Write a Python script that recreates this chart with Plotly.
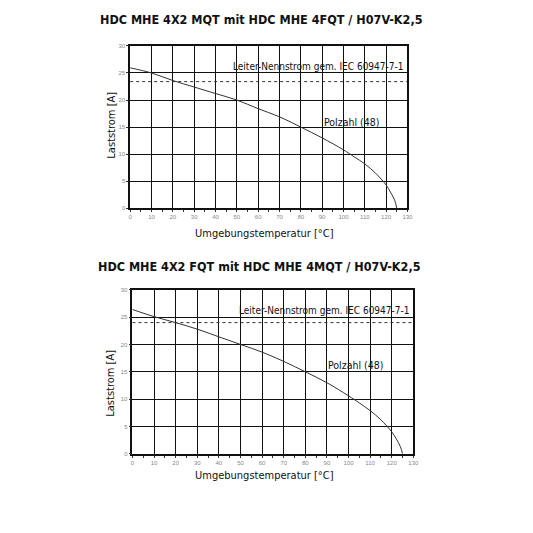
import plotly.graph_objects as go

# Temperaturwerte (°C) und Laststrom (A) der beiden Derating-Kurven
temp = [0, 10, 20, 30, 40, 50, 60, 70, 80, 90, 100, 105, 110, 115, 120, 122, 124, 125]
strom_mqt = [25.95, 25.0, 23.6, 22.4, 21.2, 20.0, 18.4, 16.9, 15.0, 13.0, 10.8, 9.5, 8.2, 6.5, 4.3, 3.0, 1.5, 0]
strom_fqt = [26.4, 25.1, 24.0, 22.8, 21.4, 20.0, 18.6, 16.9, 15.0, 13.0, 10.6, 9.3, 7.9, 6.2, 4.0, 2.8, 1.3, 0]

nennstrom = [23.4, 24.0]  # Leiter-Nennstrom je Diagramm
x_ticks = list(range(0, 131, 10))
y_ticks = list(range(0, 31, 5))

titles = [
    "HDC MHE 4X2 MQT mit HDC MHE 4FQT / H07V-K2,5",
    "HDC MHE 4X2 FQT mit HDC MHE 4MQT / H07V-K2,5",
]

NARROW = "DejaVu Sans Condensed, Liberation Sans Narrow, Arial Narrow, sans-serif"
W = H = 533
OFF = 8  # body margin of the html page


def xp(px):
    return (px - OFF) / W


def yp(py):
    return 1 - (py - OFF) / H


fig = go.Figure()

for i, strom in enumerate([strom_mqt, strom_fqt]):
    xa = "x" if i == 0 else "x2"
    ya = "y" if i == 0 else "y2"
    fig.add_trace(go.Scatter(x=temp, y=strom, mode="lines", line=dict(color="#333333", width=1),
                             line_shape="spline", xaxis=xa, yaxis=ya, showlegend=False))
    fig.add_trace(go.Scatter(x=[0, 130], y=[nennstrom[i]] * 2, mode="lines",
                             line=dict(color="#333333", width=1, dash="3px,3px"),
                             xaxis=xa, yaxis=ya, showlegend=False))

axis_common = dict(
    showgrid=True, gridcolor="#111111", gridwidth=1,
    showline=True, linecolor="#111111", linewidth=1.5, mirror=True,
    ticks="outside", ticklen=2, tickcolor="#333333",
    tickfont=dict(size=6, color="#888888", family="Arial, sans-serif"),
    zeroline=False, fixedrange=True,
)

x_common = dict(axis_common, range=[0, 130], tickvals=x_ticks,
                minor=dict(dtick=5, ticks="outside", ticklen=2, tickcolor="#333333", showgrid=False))
y_common = dict(axis_common, range=[0, 30], tickvals=y_ticks)

title_font = dict(size=12.5, family=NARROW, color="#111111")
axis_font = dict(size=11, family=NARROW, color="#111111")
label_font = dict(size=10, family=NARROW, color="#111111")


def note(text, x, y, font, xref="paper", yref="paper", angle=0):
    return dict(text=text, x=x, y=y, xref=xref, yref=yref, showarrow=False, font=font,
                textangle=angle, xanchor="center", yanchor="middle")


annotations = [
    note("<b>" + titles[0] + "</b>", xp(263), yp(17), title_font),
    note("<b>" + titles[1] + "</b>", xp(261.5), yp(266), title_font),
    note("Umgebungstemperatur [°C]", xp(266.7), yp(233), axis_font),
    note("Umgebungstemperatur [°C]", xp(266.7), yp(478), axis_font),
    note("Laststrom [A]", xp(111.5), yp(123), axis_font, angle=-90),
    note("Laststrom [A]", xp(110.5), yp(384), axis_font, angle=-90),
    note("Leiter-Nennstrom gem. IEC 60947-7-1", 88, 26.2, label_font, "x", "y"),
    note("Polzahl (48)", 104, 15.9, dict(label_font, size=10.5), "x", "y"),
    note("Leiter-Nennstrom gem. IEC 60947-7-1", 88.5, 26.2, label_font, "x2", "y2"),
    note("Polzahl (48)", 103, 16.2, dict(label_font, size=10.5), "x2", "y2"),
]

fig.update_layout(
    width=W, height=H,
    paper_bgcolor="white", plot_bgcolor="white",
    margin=dict(l=0, r=0, t=0, b=0),
    font=dict(family=NARROW, color="#111111"),
    xaxis=dict(x_common, domain=[xp(130), xp(411.5)], anchor="y"),
    yaxis=dict(y_common, domain=[yp(207.5), yp(43.3)], anchor="x"),
    xaxis2=dict(x_common, domain=[xp(132.3), xp(417.5)], anchor="y2"),
    yaxis2=dict(y_common, domain=[yp(455.8), yp(290)], anchor="x2"),
    annotations=annotations,
)

fig.write_html("out.html")
